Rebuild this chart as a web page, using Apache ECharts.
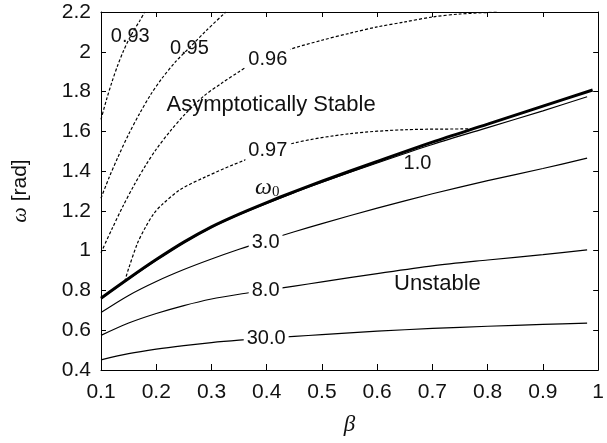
<!DOCTYPE html>
<html>
<head>
<meta charset="utf-8">
<script src="https://cdn.jsdelivr.net/npm/echarts@6/dist/echarts.min.js"></script>
<style>
  html, body { margin: 0; padding: 0; background: #fff; }
  #chart { width: 607px; height: 443px; }
</style>
</head>
<body>
<div id="chart"></div>
<script>
// axis ranges
const xMin = 0.1, xMax = 1.0, xStep = 0.1;
const yMin = 0.4, yMax = 2.2, yStep = 0.2;

// omega_0 boundary (thick line)
const betaW0  = [0.1, 0.15, 0.2, 0.25, 0.3, 0.35, 0.4, 0.45, 0.5, 0.6, 0.7, 0.8, 0.9, 0.99];
const omegaW0 = [0.761, 0.86, 0.955, 1.043, 1.12, 1.184, 1.242, 1.297, 1.349, 1.449, 1.546, 1.636, 1.727, 1.808];

// solid contours (unstable side)
const betaSolid = [0.1, 0.15, 0.2, 0.25, 0.3, 0.35, 0.4, 0.45, 0.5, 0.6, 0.7, 0.8, 0.9, 0.98];
const omega1p0  = [0.758, 0.857, 0.952, 1.04, 1.117, 1.181, 1.238, 1.292, 1.344, 1.441, 1.534, 1.619, 1.703, 1.774];
const omega3p0  = [0.689, 0.775, 0.845, 0.905, 0.958, 1.007, 1.052, 1.095, 1.136, 1.214, 1.286, 1.352, 1.413, 1.465];
const omega8p0  = [0.574, 0.636, 0.684, 0.724, 0.757, 0.781, 0.801, 0.822, 0.843, 0.885, 0.924, 0.953, 0.98, 1.004];
const omega30p0 = [0.451, 0.482, 0.505, 0.523, 0.538, 0.55, 0.56, 0.569, 0.578, 0.595, 0.609, 0.62, 0.629, 0.636];

// dashed contours (stable side)
const beta093  = [0.1, 0.11, 0.12, 0.13, 0.14, 0.15, 0.16, 0.17, 0.179];
const omega093 = [1.66, 1.76, 1.85, 1.93, 2.0, 2.06, 2.11, 2.155, 2.2];
const beta095  = [0.1, 0.115, 0.13, 0.15, 0.17, 0.19, 0.21, 0.235, 0.26, 0.29, 0.326];
const omega095 = [1.264, 1.37, 1.466, 1.585, 1.69, 1.785, 1.865, 1.95, 2.02, 2.105, 2.2];
const beta096  = [0.1, 0.12, 0.14, 0.16, 0.18, 0.2, 0.225, 0.25, 0.285, 0.32, 0.35, 0.365, 0.44, 0.5, 0.55, 0.6, 0.65, 0.7, 0.75, 0.82];
const omega096 = [0.99, 1.11, 1.225, 1.33, 1.425, 1.51, 1.60, 1.68, 1.775, 1.845, 1.9, 1.925, 2.01, 2.058, 2.093, 2.125, 2.15, 2.175, 2.19, 2.2];
const beta097  = [0.143, 0.15, 0.166, 0.18, 0.196, 0.21, 0.243, 0.29, 0.36, 0.448, 0.55, 0.65, 0.77];
const omega097 = [0.846, 0.91, 1.037, 1.115, 1.188, 1.23, 1.306, 1.372, 1.455, 1.54, 1.588, 1.608, 1.612];

// text labels: [text, beta, omega]
const curveLabels = [
  ['0.93', 0.153, 2.077],
  ['0.95', 0.260, 2.018],
  ['0.96', 0.402, 1.963],
  ['0.97', 0.402, 1.502],
  ['1.0', 0.673, 1.440],
  ['3.0', 0.398, 1.042],
  ['8.0', 0.398, 0.799],
  ['30.0', 0.399, 0.556],
  ['ω0', 0.401, 1.316]
];
const regionLabels = [
  ['Asymptotically Stable', 0.408, 1.735],
  ['Unstable', 0.709, 0.831]
];

const sans = 'Liberation Sans, Arial, sans-serif';
const serif = 'Liberation Serif, Times New Roman, serif';
const ink = '#111';

// labels that sit inside a gap of their curve
const gapLabels = ['0.96', '0.97', '3.0', '8.0', '30.0'];

function pairs(xs, ys) {
  return xs.map((x, i) => [x, ys[i]]);
}

function curve(name, xs, ys, width, dashed) {
  return {
    type: 'line',
    name: name,
    data: pairs(xs, ys),
    symbol: 'none',
    smooth: 0.3,
    silent: true,
    z: 2,
    lineStyle: { color: '#000', width: width, type: dashed ? [3, 2] : 'solid' }
  };
}

const labelData = curveLabels.map(([t, x, y]) => {
  const item = { name: t, value: [x, y], label: {} };
  if (gapLabels.includes(t)) {
    item.label.backgroundColor = '#fff';
    item.label.padding = [1, 3];
  }
  if (t === 'ω0') {
    item.label.formatter = '{w|ω}{s|0}';
  }
  return item;
}).concat(regionLabels.map(([t, x, y]) => ({
  name: t, value: [x, y], label: { fontSize: 22 }
})));

const chart = echarts.init(document.getElementById('chart'));

const tickBase = { show: true, inside: true, length: 5, lineStyle: { color: '#000', width: 1 } };
const lineBase = { show: true, onZero: false, lineStyle: { color: '#000', width: 1 } };

const option = {
  animation: false,
  backgroundColor: '#fff',
  grid: { left: 101, right: -1, top: 12, bottom: 73 },
  xAxis: [
    {
      type: 'value', min: xMin, max: xMax, interval: xStep, position: 'bottom',
      axisLine: lineBase, axisTick: Object.assign({}, tickBase, { length: 6 }),
      splitLine: { show: false },
      axisLabel: { fontSize: 21, fontFamily: sans, color: ink, margin: 12 },
      name: 'β', nameLocation: 'middle', nameGap: 43,
      nameTextStyle: { fontSize: 23, fontFamily: serif, fontStyle: 'italic', color: ink }
    },
    {
      type: 'value', min: xMin, max: xMax, interval: xStep, position: 'top',
      axisLine: lineBase, axisTick: tickBase,
      splitLine: { show: false }, axisLabel: { show: false }
    }
  ],
  yAxis: [
    {
      type: 'value', min: yMin, max: yMax, interval: yStep, position: 'left',
      axisLine: lineBase, axisTick: tickBase,
      splitLine: { show: false },
      axisLabel: { fontSize: 21, fontFamily: sans, color: ink, margin: 10 },
      name: '{w|ω} [rad]', nameLocation: 'middle', nameRotate: 90, nameGap: 70,
      nameTextStyle: {
        fontSize: 21, fontFamily: sans, color: ink,
        rich: { w: { fontSize: 22, fontFamily: serif, fontStyle: 'italic', color: ink } }
      }
    },
    {
      type: 'value', min: yMin, max: yMax, interval: yStep, position: 'right',
      axisLine: lineBase, axisTick: tickBase,
      splitLine: { show: false }, axisLabel: { show: false }
    }
  ],
  series: [
    curve('0.93', beta093, omega093, 1.2, true),
    curve('0.95', beta095, omega095, 1.2, true),
    curve('0.96', beta096, omega096, 1.2, true),
    curve('0.97', beta097, omega097, 1.2, true),
    curve('1.0', betaSolid, omega1p0, 1.2, false),
    curve('3.0', betaSolid, omega3p0, 1.2, false),
    curve('8.0', betaSolid, omega8p0, 1.2, false),
    curve('30.0', betaSolid, omega30p0, 1.2, false),
    curve('omega0', betaW0, omegaW0, 3, false),
    {
      type: 'scatter',
      name: 'labels',
      data: labelData,
      symbolSize: 0,
      silent: true,
      z: 10,
      itemStyle: { opacity: 1, color: 'transparent' },
      label: {
        show: true,
        position: 'inside',
        formatter: '{b}',
        fontSize: 20,
        fontFamily: sans,
        color: ink,
        textBorderWidth: 0,
        opacity: 1,
        rich: {
          w: { fontSize: 24, fontFamily: serif, fontStyle: 'italic', color: ink },
          s: { fontSize: 15, fontFamily: serif, color: ink, verticalAlign: 'bottom', padding: [8, 0, 0, 0] }
        }
      }
    }
  ]
};

chart.setOption(option);
</script>
</body>
</html>
